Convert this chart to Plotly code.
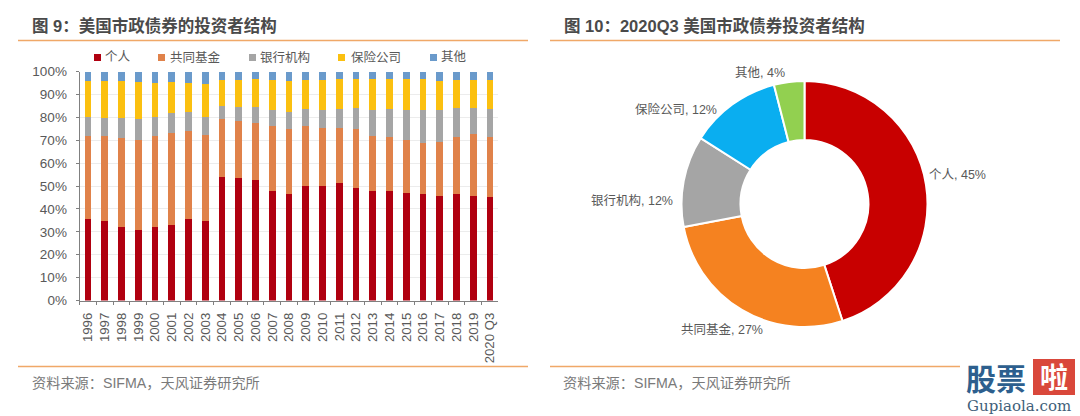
import plotly.graph_objects as go

W, H = 1080, 416
CJK = "Liberation Sans, Noto Sans CJK SC, sans-serif"

years = ["1996","1997","1998","1999","2000","2001","2002","2003","2004","2005","2006","2007","2008",
         "2009","2010","2011","2012","2013","2014","2015","2016","2017","2018","2019","2020 Q3"]
individual = [35.5,34.8,32.3,30.6,32.3,32.8,35.7,34.8,53.9,53.4,52.5,47.9,46.6,50.0,50.0,51.2,49.2,48.0,47.9,47.0,46.6,45.6,46.6,45.6,45.0]
funds = [36.4,37.1,38.6,39.6,39.6,40.2,38.5,37.5,25.4,25.1,25.2,28.2,28.2,26.4,25.5,24.3,25.6,23.9,23.6,23.2,22.1,23.4,24.9,26.9,26.6]
banks = [8.1,7.9,8.7,9.0,8.1,8.8,8.3,8.0,5.7,6.2,6.9,7.3,7.6,7.2,7.9,8.1,9.2,11.4,12.2,13.1,14.3,14.3,12.5,11.5,12.2]
insurers = [15.8,16.0,16.2,16.0,14.8,13.4,12.4,14.2,11.4,11.7,12.1,13.0,13.6,12.8,13.0,13.1,12.7,13.4,13.0,13.4,13.7,12.7,12.4,12.2,12.4]
others = [4.2,4.2,4.2,4.8,5.2,4.8,5.1,5.5,3.6,3.6,3.3,3.6,4.0,3.6,3.6,3.3,3.3,3.3,3.3,3.3,3.3,4.0,3.6,3.8,3.8]
series_names = ["个人","共同基金","银行机构","保险公司","其他"]
series_colors = ["#b00010","#e0824a","#a5a5a5","#fbc010","#6a9acb"]
legend_marker_x = [94, 158, 249, 338, 430]
legend_text_x = [103, 168, 258, 349, 439]

pie_labels = ["个人","共同基金","银行机构","保险公司","其他"]
pie_values = [45,27,12,12,4]
pie_colors = ["#c80000","#f58220","#a5a5a5","#0aaef0","#92d050"]
pie_label_centres = [(957,175),(722,329),(632,201),(676,109),(760,73)]

def px(x): return x / W
def py(y): return 1 - y / H

fig = go.Figure()
for name, vals, col in zip(series_names, [individual, funds, banks, insurers, others], series_colors):
    fig.add_bar(x=years, y=vals, name=name, showlegend=False, marker=dict(color=col, line_width=0))

fig.add_pie(labels=pie_labels, values=pie_values, hole=0.52, sort=False, direction="clockwise", rotation=0,
            marker=dict(colors=pie_colors, line=dict(color="white", width=2)),
            textinfo="none", showlegend=False,
            domain=dict(x=[px(681), px(928)], y=[py(327), py(81)]))

line_col = "#f0a868"
shapes = []
for x0, x1, y in [(18, 528, 40.5), (550, 1060, 40.5), (18, 528, 366.5), (550, 960, 366.5)]:
    shapes.append(dict(type="line", xref="paper", yref="paper", x0=px(x0), x1=px(x1), y0=py(y), y1=py(y),
                       line=dict(color=line_col, width=1.6)))
shapes.append(dict(type="rect", xref="paper", yref="paper", x0=px(1033), x1=px(1075), y0=py(395), y1=py(359),
                   fillcolor="#d9483b", line_width=0))
for mx, col in zip(legend_marker_x, series_colors):
    shapes.append(dict(type="rect", xref="paper", yref="paper", x0=px(mx), x1=px(mx + 7), y0=py(61), y1=py(54),
                       fillcolor=col, line_width=0))

def note(x, y, text, size, color, anchor="left", family=CJK):
    return dict(xref="paper", yref="paper", x=px(x), y=py(y), text=text, showarrow=False, xanchor=anchor,
                yanchor="middle", font=dict(size=size, color=color, family=family))

annotations = [
    note(30, 25, "<b>图 9：美国市政债券的投资者结构</b>", 16.5, "#4a4a4a"),
    note(562, 25, "<b>图 10：2020Q3 美国市政债券投资者结构</b>", 16.5, "#4a4a4a"),
    note(30, 383, "资料来源：SIFMA，天风证券研究所", 14.2, "#7a7a7a"),
    note(561, 383, "资料来源：SIFMA，天风证券研究所", 14.2, "#7a7a7a"),
    note(995.5, 377, "<b>股票</b>", 30, "#2d5f8e", "center", "Noto Sans CJK SC"),
    note(1054, 376, "<b>啦</b>", 28, "#ffffff", "center", "Noto Sans CJK SC"),
    note(1019, 406, "Gupiaola.com", 15, "#3f5f7a", "center", "DejaVu Serif"),
]
for tx, name in zip(legend_text_x, series_names):
    annotations.append(note(tx, 57, name, 12.5, "#595959"))
for (cx, cy), name, val in zip(pie_label_centres, pie_labels, pie_values):
    annotations.append(note(cx, cy, f"{name}, {val}%", 12.5, "#595959", "center"))

fig.update_layout(
    width=W, height=H, margin=dict(l=0, r=0, t=0, b=0, autoexpand=False), paper_bgcolor="white", plot_bgcolor="white",
    barmode="stack", bargap=0.6, font=dict(family=CJK, color="#595959", size=13),
    shapes=shapes, annotations=annotations, showlegend=False,
    xaxis=dict(domain=[px(79.6), px(498.4)], anchor="y", automargin=False, type="category", tickmode="linear", dtick=1,
               tickangle=-90, tickson="boundaries", ticks="outside", ticklen=3, ticklabelstandoff=6,
               tickcolor="#808080", linecolor="#808080", showgrid=False, tickfont=dict(size=13.2, color="#595959")),
    yaxis=dict(domain=[py(300.5), py(71.5)], range=[0, 100], dtick=10, ticksuffix="%", ticks="outside", ticklen=3,
               automargin=False, ticklabelstandoff=6,
               tickcolor="#808080", linecolor="#808080", showline=True, gridcolor="#ececec",
               tickfont=dict(size=13.5, color="#595959")),
)
fig.write_html("out.html", post_script="document.body.style.margin='0';", config=dict(displayModeBar=False))
